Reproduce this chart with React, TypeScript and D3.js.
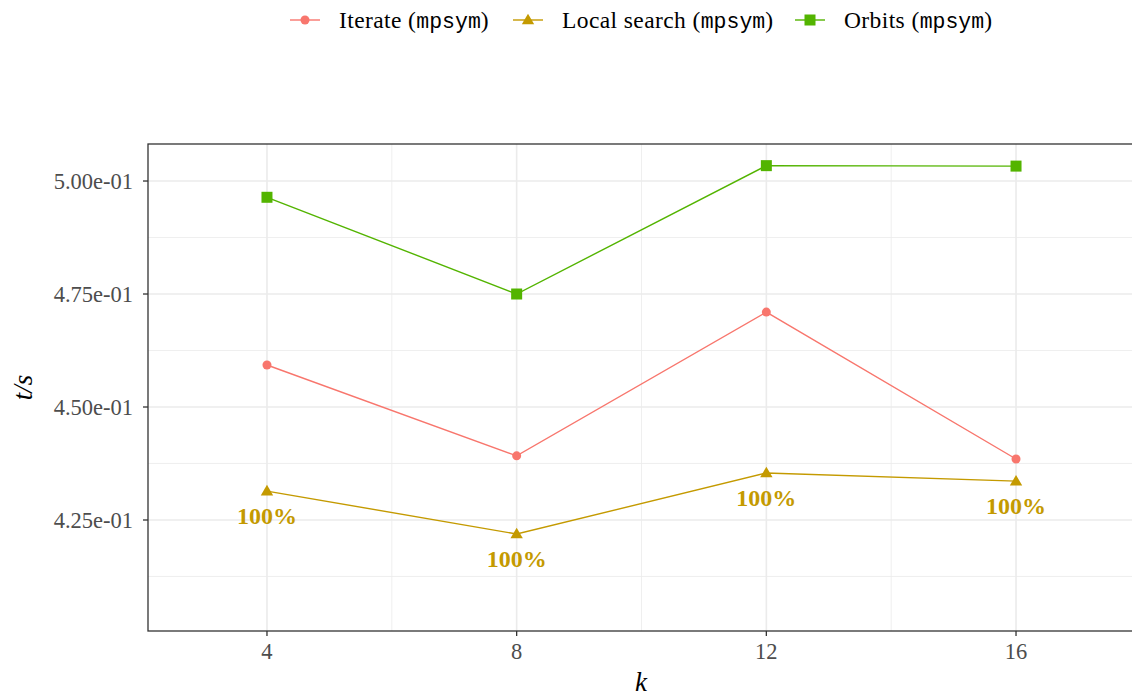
import React from "react";
import * as d3 from "d3";

const kValues = [4, 8, 12, 16];
const iterateTimes = [0.4593, 0.4392, 0.4710, 0.4385];
const localSearchTimes = [0.4314, 0.4219, 0.4354, 0.4336];
const orbitsTimes = [0.4964, 0.4750, 0.5034, 0.5033];
const localSearchLabels = ["100%", "100%", "100%", "100%"];
const yTicks = [0.425, 0.45, 0.475, 0.5];
const yMinor = [0.4125, 0.4375, 0.4625, 0.4875];
const xMinor = [6, 10, 14];

const series = [
  { name: "Iterate", values: iterateTimes, color: "#F8766D", shape: "circle" },
  { name: "Local search", values: localSearchTimes, color: "#C49A00", shape: "triangle" },
  { name: "Orbits", values: orbitsTimes, color: "#53B400", shape: "square" },
];

const W = 1132;
const H = 698;
const panel = { left: 148, top: 144, right: 1135, bottom: 631 };
const serif = "'Liberation Serif', 'Times New Roman', serif";
const mono = "'Liberation Mono', 'DejaVu Sans Mono', monospace";

function Marker({ shape, x, y, color }: { shape: string; x: number; y: number; color: string }) {
  if (shape === "circle") return <circle cx={x} cy={y} r={4.5} fill={color} />;
  if (shape === "triangle") {
    const s = 6.2;
    const pts = [
      [x, y - s],
      [x - s, y + s * 0.7],
      [x + s, y + s * 0.7],
    ];
    return <polygon points={pts.map((p) => p.join(",")).join(" ")} fill={color} />;
  }
  const s = 5.5;
  return <rect x={x - s} y={y - s} width={2 * s} height={2 * s} fill={color} />;
}

export default function App() {
  const x = d3.scaleLinear().domain([2.094, 17.906]).range([panel.left, panel.right]);
  const y = d3.scaleLinear().domain([0.40044, 0.50819]).range([panel.bottom, panel.top]);
  const line = d3
    .line<number>()
    .x((_, i) => x(kValues[i]))
    .y((v) => y(v));

  const legendItems = [
    { s: series[0], x0: 290, tx: 339 },
    { s: series[1], x0: 513, tx: 562 },
    { s: series[2], x0: 795, tx: 844 },
  ];

  return (
    <svg width={W} height={H} style={{ position: "absolute", left: 0, top: 0, background: "#fff" }}>
      <defs>
        <clipPath id="panelClip">
          <rect x={panel.left} y={panel.top} width={panel.right - panel.left} height={panel.bottom - panel.top} />
        </clipPath>
      </defs>
      <rect x={0} y={0} width={W} height={H} fill="#fff" />
      {/* grid */}
      <g clipPath="url(#panelClip)">
        {yMinor.map((v) => (
          <line key={"ym" + v} x1={panel.left} x2={panel.right} y1={y(v)} y2={y(v)} stroke="#EBEBEB" strokeWidth={0.8} />
        ))}
        {xMinor.map((v) => (
          <line key={"xm" + v} x1={x(v)} x2={x(v)} y1={panel.top} y2={panel.bottom} stroke="#EBEBEB" strokeWidth={0.8} />
        ))}
        {yTicks.map((v) => (
          <line key={"y" + v} x1={panel.left} x2={panel.right} y1={y(v)} y2={y(v)} stroke="#EBEBEB" strokeWidth={1.6} />
        ))}
        {kValues.map((v) => (
          <line key={"x" + v} x1={x(v)} x2={x(v)} y1={panel.top} y2={panel.bottom} stroke="#EBEBEB" strokeWidth={1.6} />
        ))}
        {series.map((s) => (
          <g key={s.name}>
            <path d={line(s.values) || ""} fill="none" stroke={s.color} strokeWidth={1.4} />
            {s.values.map((v, i) => (
              <Marker key={i} shape={s.shape} x={x(kValues[i])} y={y(v)} color={s.color} />
            ))}
          </g>
        ))}
        {localSearchTimes.map((v, i) => (
          <text
            key={"lbl" + i}
            x={x(kValues[i])}
            y={y(v) + 33}
            textAnchor="middle"
            fontFamily={serif}
            fontWeight="bold"
            fontSize={24}
            fill="#C49A00"
          >
            {localSearchLabels[i]}
          </text>
        ))}
      </g>
      {/* panel border */}
      <rect x={panel.left} y={panel.top} width={panel.right - panel.left} height={panel.bottom - panel.top} fill="none" stroke="#333" strokeWidth={1.3} />
      {/* y axis */}
      {yTicks.map((v) => (
        <g key={"yt" + v}>
          <line x1={panel.left - 5} x2={panel.left} y1={y(v)} y2={y(v)} stroke="#333" strokeWidth={1.3} />
          <text x={panel.left - 15} y={y(v)} dy="0.35em" textAnchor="end" fontFamily={serif} fontSize={22.5} fill="#4D4D4D">
            {d3.format(".2e")(v).replace("e-1", "e-01")}
          </text>
        </g>
      ))}
      {/* x axis */}
      {kValues.map((v) => (
        <g key={"xt" + v}>
          <line x1={x(v)} x2={x(v)} y1={panel.bottom} y2={panel.bottom + 5} stroke="#333" strokeWidth={1.3} />
          <text x={x(v)} y={panel.bottom + 28} textAnchor="middle" fontFamily={serif} fontSize={22.5} fill="#4D4D4D">
            {v}
          </text>
        </g>
      ))}
      <text x={641} y={691} textAnchor="middle" fontFamily={serif} fontStyle="italic" fontSize={27} fill="#000">
        k
      </text>
      <text
        transform={`translate(32, ${(panel.top + panel.bottom) / 2}) rotate(-90)`}
        textAnchor="middle"
        fontFamily={serif}
        fontStyle="italic"
        fontSize={27}
        fill="#000"
      >
        t/s
      </text>
      {/* legend */}
      {legendItems.map(({ s, x0, tx }) => (
        <g key={"lg" + s.name}>
          <line x1={x0} x2={x0 + 30} y1={20} y2={20} stroke={s.color} strokeWidth={1.4} />
          <Marker shape={s.shape} x={x0 + 15} y={20} color={s.color} />
          <text x={tx} y={20} dy="0.35em" fontFamily={serif} fontSize={23.5} letterSpacing={0.4} fill="#000">
            {s.name + " ("}
            <tspan fontFamily={mono} fontSize={21.5} letterSpacing={0}>mpsym</tspan>
            {")"}
          </text>
        </g>
      ))}
    </svg>
  );
}
